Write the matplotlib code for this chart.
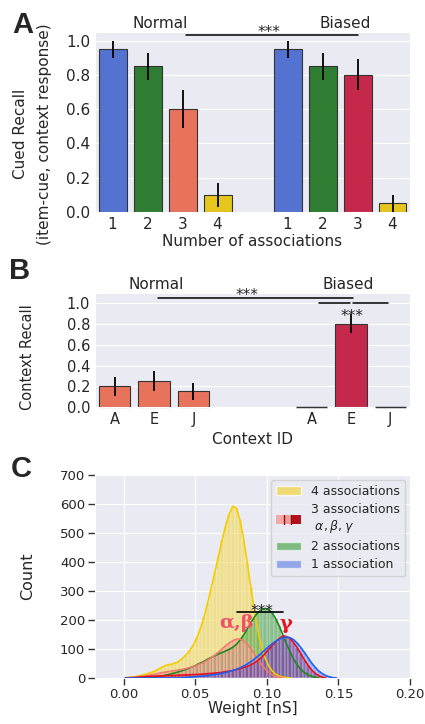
import numpy as np
import matplotlib
matplotlib.use('Agg')
import matplotlib.pyplot as plt
import seaborn as sns
from matplotlib.patches import Patch, Rectangle
from matplotlib.lines import Line2D
from matplotlib.legend_handler import HandlerBase

sns.set_style('darkgrid')
plt.rcParams['font.family'] = ['DejaVu Sans']

# ---- panel A: cued recall per number of associations
assoc_labels = ['1', '2', '3', '4']
recall_normal = [0.95, 0.85, 0.60, 0.10]
recall_normal_lo = [0.90, 0.77, 0.49, 0.03]
recall_normal_hi = [1.00, 0.93, 0.71, 0.17]
recall_biased = [0.95, 0.85, 0.80, 0.05]
recall_biased_lo = [0.90, 0.77, 0.71, 0.00]
recall_biased_hi = [1.00, 0.93, 0.89, 0.10]

# ---- panel B: context recall per context id
context_labels = ['A', 'E', 'J']
ctx_normal = [0.20, 0.25, 0.15]
ctx_normal_lo = [0.11, 0.15, 0.07]
ctx_normal_hi = [0.29, 0.35, 0.23]
ctx_biased = [0.0, 0.80, 0.0]
ctx_biased_lo = [0.0, 0.71, 0.0]
ctx_biased_hi = [0.0, 0.90, 0.0]

# ---- panel C: weight histograms (bins of 0.0025 nS starting at 0)
bin_width = 0.0025
counts_4 = [1, 2, 3, 5, 8, 11, 14, 18, 23, 29, 36, 42, 46, 48, 52, 58, 68, 80, 95, 115,
            140, 172, 212, 260, 312, 365, 420, 475, 525, 565, 592, 585, 545, 480, 400,
            315, 235, 165, 110, 70, 42, 24, 13, 6, 3, 1, 0]
counts_3ab = [0, 1, 2, 3, 5, 6, 8, 10, 12, 15, 18, 20, 22, 24, 26, 28, 30, 33, 36, 40,
              44, 49, 55, 62, 70, 79, 89, 100, 111, 121, 129, 134, 134, 128, 117, 102,
              84, 65, 47, 32, 20, 11, 5, 2, 0]
counts_2 = [0, 0, 0, 0, 0, 0, 0, 0, 2, 4, 6, 9, 12, 15, 18, 22, 26, 30, 35, 40, 46, 52,
            58, 65, 71, 77, 83, 88, 93, 99, 106, 116, 130, 148, 168, 190, 210, 226, 236,
            240, 236, 224, 204, 178, 148, 118, 90, 65, 45, 30, 19, 11, 6, 2, 0]
counts_3g = [0, 1, 1, 2, 3, 4, 5, 6, 6, 7, 7, 8, 8, 9, 9, 10, 10, 11, 11, 12, 12, 13, 14,
             15, 16, 17, 18, 20, 22, 24, 26, 29, 32, 36, 40, 45, 52, 60, 71, 84, 98, 112,
             125, 137, 145, 143, 136, 122, 104, 84, 63, 44, 28, 16, 8, 3, 0]
counts_1 = [0] * 16 + [1, 2, 3, 4, 5, 6, 7, 9, 10, 12, 14, 16, 19, 22, 26, 30, 35, 41, 48,
                       56, 65, 75, 86, 97, 108, 118, 127, 134, 139, 141, 139, 132, 120,
                       105, 88, 70, 52, 37, 24, 15, 8, 4, 1, 0]

blue = '#5472d0'
green = '#2e7d32'
salmon = '#e8735d'
yellow = '#e6c61c'
crimson = '#c4294b'
edge = '#333333'

fig = plt.figure(figsize=(4.25, 7.24), dpi=100)
axA = fig.add_axes([95 / 425, 1 - 212 / 724, 315 / 425, 180 / 724])
axB = fig.add_axes([95 / 425, 1 - 407 / 724, 315 / 425, 114 / 724])
axC = fig.add_axes([95 / 425, 1 - 678 / 724, 315 / 425, 203 / 724])

# ---------------- A
pos_n = np.arange(4)
pos_b = np.arange(4) + 5
axA.bar(pos_n, recall_normal, width=0.8, color=[blue, green, salmon, yellow],
        edgecolor=edge, lw=0.8, zorder=2)
axA.bar(pos_b, recall_biased, width=0.8, color=[blue, green, crimson, yellow],
        edgecolor=edge, lw=0.8, zorder=2)
axA.vlines(pos_n, recall_normal_lo, recall_normal_hi, color='black', lw=1.3, zorder=3)
axA.vlines(pos_b, recall_biased_lo, recall_biased_hi, color='black', lw=1.3, zorder=3)
axA.set_xticks(np.r_[pos_n, pos_b])
axA.set_xticklabels(assoc_labels * 2)
axA.set_xlim(-0.5, 8.5)
axA.set_ylim(0, 1.05)
axA.set_yticks(np.arange(0, 1.01, 0.2))
axA.grid(axis='x', visible=False)
axA.tick_params(length=0, labelsize=11, pad=3.5)
axA.set_ylabel('Cued Recall', fontsize=11)
axA.yaxis.set_label_coords(-0.214, 0.433)
axA.text(-0.159, 0.433, '(item-cue, context response)', transform=axA.transAxes,
         rotation=90, ha='center', va='center', fontsize=11)
axA.set_xlabel('Number of associations', fontsize=11)
axA.xaxis.set_label_coords(0.5, -0.125)
axA.xaxis.label.set_va('top')
axA.text(1.37, 1.098, 'Normal', ha='center', va='center', fontsize=11, clip_on=False)
axA.text(6.66, 1.098, 'Biased', ha='center', va='center', fontsize=11, clip_on=False)
axA.plot([2.1, 7.0], [1.035, 1.035], color='black', lw=1.1, clip_on=False, zorder=4)
axA.text(4.46, 1.02, '***', ha='center', va='baseline', fontsize=11, clip_on=False)

# ---------------- B
pos_n = np.arange(3)
pos_b = np.arange(3) + 5
axB.bar(pos_n, ctx_normal, width=0.8, color=salmon, edgecolor=edge, lw=0.8, zorder=2,
        clip_on=False)
axB.bar(pos_b, ctx_biased, width=0.8, color=crimson, edgecolor=edge, lw=0.8, zorder=2,
        clip_on=False)
# zero-height bars still show their outline
zero = np.array(ctx_biased) == 0
axB.hlines(np.array(ctx_biased)[zero], pos_b[zero] - 0.4, pos_b[zero] + 0.4,
           color=edge, lw=1.0, zorder=3, clip_on=False)
axB.vlines(pos_n, ctx_normal_lo, ctx_normal_hi, color='black', lw=1.3, zorder=3)
axB.vlines(pos_b[1], ctx_biased_lo[1], ctx_biased_hi[1], color='black', lw=1.3, zorder=3)
axB.set_xticks(np.r_[pos_n, pos_b])
axB.set_xticklabels(context_labels * 2)
axB.set_xlim(-0.5, 7.5)
axB.set_ylim(0, 1.1)
axB.set_yticks(np.arange(0, 1.01, 0.2))
axB.grid(axis='x', visible=False)
axB.tick_params(length=0, labelsize=10.5, pad=3.5)
axB.set_ylabel('Context Recall', fontsize=10.5)
axB.yaxis.set_label_coords(-0.19, 0.44)
axB.set_xlabel('Context ID', fontsize=11)
axB.xaxis.set_label_coords(0.5, -0.215)
axB.xaxis.label.set_va('top')
axB.text(1.05, 1.18, 'Normal', ha='center', va='center', fontsize=11, clip_on=False)
axB.text(5.92, 1.18, 'Biased', ha='center', va='center', fontsize=11, clip_on=False)
axB.plot([1.1, 6.05], [1.048, 1.048], color='black', lw=1.1, clip_on=False, zorder=4)
axB.text(3.36, 1.03, '***', ha='center', va='baseline', fontsize=11, clip_on=False)
axB.plot([5.2, 5.97], [1.0, 1.0], color='black', lw=1.1, zorder=4)
axB.plot([6.05, 6.95], [1.0, 1.0], color='black', lw=1.1, zorder=4)
axB.text(6.03, 0.83, '***', ha='center', va='baseline', fontsize=11, zorder=5)

# ---------------- C
series = [
    (counts_4, '#f2d54a', '#f5cc00', 0.6),
    (counts_2, '#3a9a3a', '#1a8a1a', 0.55),
    (counts_3ab, '#f48a80', '#f27a6a', 0.6),
    (counts_3g, '#b8103c', '#e8101c', 0.6),
    (counts_1, '#4a6ee0', '#1d5ff0', 0.45),
]
for counts, fc, lc, al in series:
    edges = np.arange(len(counts)) * bin_width
    axC.bar(edges, counts, width=bin_width, align='edge', color=fc, alpha=al,
            edgecolor='white', lw=0.3, zorder=2)
    axC.plot(edges + bin_width / 2, counts, color=lc, lw=1.2, zorder=3)

axC.set_xlim(-0.02, 0.2)
axC.set_ylim(0, 700)
axC.set_xticks([0.0, 0.05, 0.10, 0.15, 0.20])
axC.set_xticklabels(['0.00', '0.05', '0.10', '0.15', '0.20'])
axC.set_yticks(np.arange(0, 701, 100))
axC.tick_params(bottom=True, left=True, length=5, width=1, color='#333333',
                labelsize=9.5, pad=2)
axC.set_ylabel('Count', fontsize=11.5)
axC.yaxis.set_label_coords(-0.19, 0.5)
axC.set_xlabel('Weight [nS]', fontsize=11)
axC.xaxis.set_label_coords(0.5, -0.112)
axC.xaxis.label.set_va('top')

axC.plot([0.079, 0.1115], [228, 228], color='black', lw=1.2, zorder=5)
axC.text(0.0965, 215, '***', ha='center', va='baseline', fontsize=11, zorder=6)
axC.text(0.0788, 190, 'α,β', ha='center', va='center', fontsize=14,
         family='DejaVu Serif', weight='bold', color='#f0506e', zorder=6)
axC.text(0.1137, 187, 'γ', ha='center', va='center', fontsize=14,
         family='DejaVu Serif', weight='bold', color='#e8141c', zorder=6)


class SplitKey:
    pass


class SplitPatchHandler(HandlerBase):
    def create_artists(self, legend, orig_handle, xdescent, ydescent, width,
                       height, fontsize, trans):
        x0, y0 = -xdescent, -ydescent
        arts = []
        for a, b, col in [(0, 0.3, '#f6aaa5'), (0.3, 0.58, '#f29a94'), (0.58, 1.0, '#b3121c')]:
            arts.append(Rectangle((x0 + a * width, y0), (b - a) * width, height,
                                  facecolor=col, edgecolor='none', transform=trans))
        for a in (0.3, 0.58):
            arts.append(Line2D([x0 + a * width] * 2, [y0, y0 + height],
                               color='#8a1020', lw=1.0, transform=trans))
        return arts


handles = [Patch(facecolor='#f2d54a', alpha=0.75),
           SplitKey(),
           Patch(facecolor='#3a9a3a', alpha=0.6),
           Patch(facecolor='#4a6ee0', alpha=0.55)]
labels = ['4 associations', '3 associations\n $\\alpha, \\beta, \\gamma$',
          '2 associations', '1 association']
leg = axC.legend(handles, labels, loc='upper right', fontsize=9,
                 handler_map={SplitKey: SplitPatchHandler()},
                 frameon=True, borderaxespad=0.4, labelspacing=0.4)
leg.get_frame().set_facecolor('#eaeaf2')
leg.get_frame().set_edgecolor('#cccccc')

# panel letters
fig.text(0.03, 1 - 11 / 724, 'A', fontsize=21, weight='bold', family='Liberation Sans',
         va='top', ha='left')
fig.text(0.022, 1 - 257 / 724, 'B', fontsize=21, weight='bold', family='Liberation Sans',
         va='top', ha='left')
fig.text(0.026, 1 - 455 / 724, 'C', fontsize=21, weight='bold', family='Liberation Sans',
         va='top', ha='left')

fig.savefig('out.png', dpi=100)
